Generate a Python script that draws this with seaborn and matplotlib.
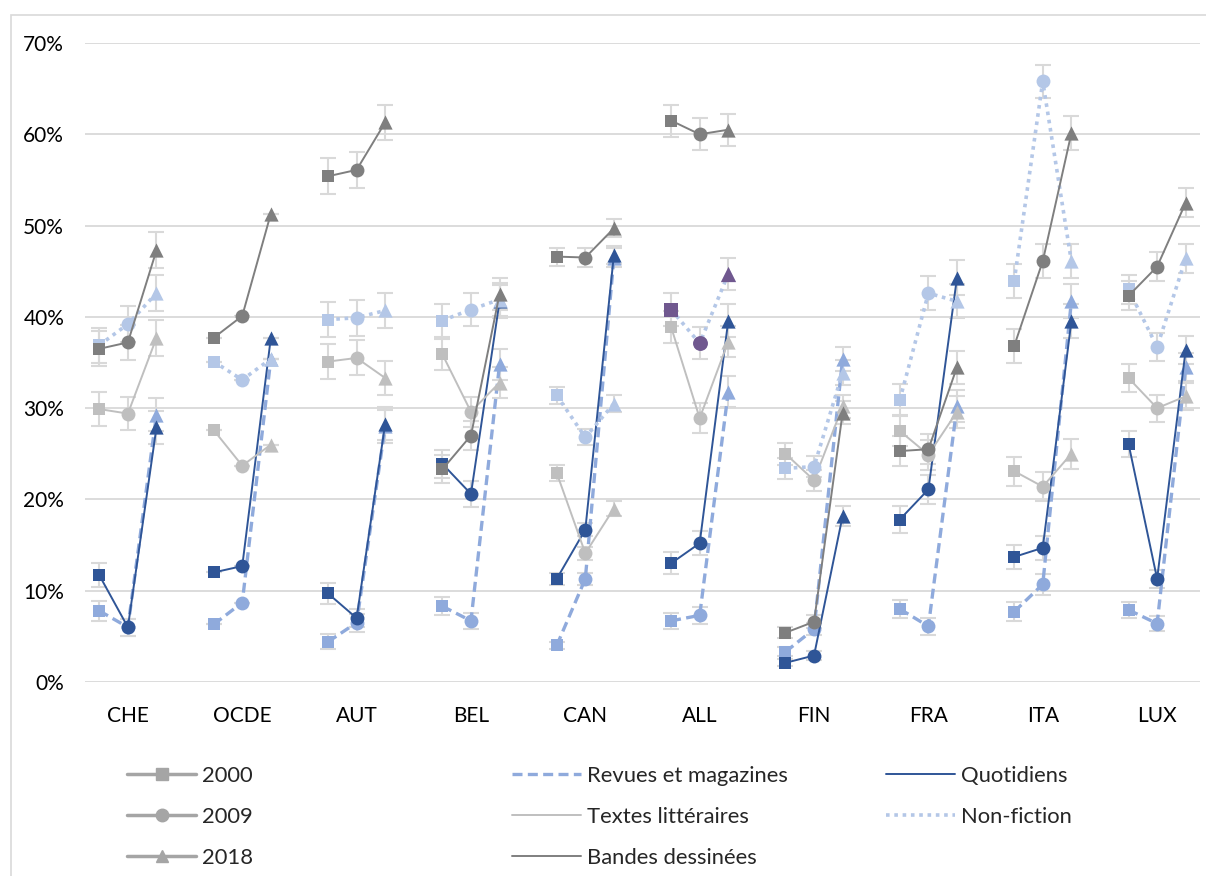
import matplotlib
matplotlib.use("Agg")
import matplotlib.pyplot as plt
from matplotlib.lines import Line2D
from matplotlib.patches import Rectangle
import numpy as np
import pandas as pd
import seaborn as sns

# pays et années
countries = ["CHE", "OCDE", "AUT", "BEL", "CAN", "ALL", "FIN", "FRA", "ITA", "LUX"]
years = ["2000", "2009", "2018"]

# valeurs en % (3 années par pays, dans l'ordre des pays)
revues = [7.8, 6.0, 29.3, 6.3, 8.7, 35.4, 4.4, 6.5, 28.0, 8.3, 6.7, 34.8,
          4.0, 11.3, 46.5, 6.7, 7.3, 31.8, 3.3, 5.8, 35.4, 8.0, 6.1, 30.2,
          7.7, 10.7, 41.7, 7.9, 6.4, 34.5]
quotidiens = [11.7, 6.0, 27.9, 12.0, 12.7, 37.7, 9.7, 7.0, 28.3, 23.9, 20.6, 41.7,
              11.3, 16.7, 46.8, 13.0, 15.2, 39.6, 2.1, 2.9, 18.2, 17.8, 21.1, 44.3,
              13.7, 14.7, 39.5, 26.1, 11.3, 36.4]
textes = [29.9, 29.4, 37.7, 27.6, 23.7, 26.0, 35.1, 35.5, 33.3, 35.9, 29.6, 32.8,
          22.9, 14.1, 19.0, 38.9, 28.9, 37.3, 25.0, 22.1, 30.2, 27.5, 24.9, 29.6,
          23.1, 21.4, 25.0, 33.3, 30.0, 31.3]
nonfiction = [36.9, 39.2, 42.6, 35.1, 33.1, 35.4, 39.7, 39.9, 40.7, 39.6, 40.8, 41.9,
              31.4, 26.8, 30.5, 40.8, 37.1, 44.7, 23.4, 23.6, 33.9, 30.9, 42.6, 41.7,
              43.9, 65.8, 46.1, 43.0, 36.7, 46.4]
bandes = [36.5, 37.2, 47.3, 37.7, 40.1, 51.3, 55.4, 56.1, 61.3, 23.3, 27.0, 42.5,
          46.6, 46.5, 49.7, 61.5, 60.0, 60.5, 5.4, 6.6, 29.5, 25.3, 25.5, 34.5,
          36.8, 46.1, 60.1, 42.3, 45.5, 52.5]

# demi-largeur des barres d'erreur (points de %, pour p = 50 %)
err_base = [2.0, 0.0, 2.0, 1.8, 1.0, 1.8, 1.4, 1.9, 1.9, 1.6]

# (nom, valeurs, couleur, style, épaisseur) dans l'ordre de tracé
series = [
    ("Revues et magazines", revues, "#8FAADC", (0, (3, 1.6)), 2.4),
    ("Quotidiens", quotidiens, "#2F5597", "-", 1.4),
    ("Textes littéraires", textes, "#BFBFBF", "-", 1.4),
    ("Non-fiction", nonfiction, "#B4C7E7", (0, (1, 1.3)), 2.6),
    ("Bandes dessinées", bandes, "#7F7F7F", "-", 1.4),
]
highlight = ("ALL", "Non-fiction", "#70588F")

rows = []
for name, vals, *_ in series:
    for i, c in enumerate(countries):
        for j, y in enumerate(years):
            rows.append({"serie": name, "pays": c, "annee": y,
                         "x": 4 * i + j, "valeur": vals[3 * i + j],
                         "err": err_base[i]})
df = pd.DataFrame(rows)
p = df["valeur"] / 100
df["err"] = df["err"] * np.sqrt(p * (1 - p)) / 0.5

sns.set_theme(style="white")
plt.rcParams['font.family'] = ['Lato', 'DejaVu Sans']

fig = plt.figure(figsize=(12.06, 8.76), dpi=100)
ax = fig.add_axes([85 / 1206, 1 - 682 / 876, 1115 / 1206, 639 / 876])

markers = {"2000": "s", "2009": "o", "2018": "^"}
sizes = {"2000": 85, "2009": 100, "2018": 105}

# barres d'erreur
ax.errorbar(df["x"], df["valeur"], yerr=df["err"], fmt="none",
            ecolor="#D9D9D9", elinewidth=1.5, capsize=6, capthick=1.5, zorder=1)

for k, (name, vals, color, ls, lw) in enumerate(series):
    sub = df[df["serie"] == name]
    sns.lineplot(data=sub, x="x", y="valeur", units="pays", estimator=None,
                 color=color, linestyle=ls, linewidth=lw, ax=ax, zorder=2 + k,
                 legend=False)
    for y in years:
        pts = sub[sub["annee"] == y]
        ax.scatter(pts["x"], pts["valeur"], marker=markers[y], s=sizes[y],
                   color=color, linewidths=0, zorder=2 + k)
    if name == highlight[1]:
        hl = sub[sub["pays"] == highlight[0]]
        for y in years:
            pts = hl[hl["annee"] == y]
            ax.scatter(pts["x"], pts["valeur"], marker=markers[y],
                       s=sizes[y] * 1.15, color=highlight[2], linewidths=0,
                       zorder=2 + k)

ax.set_xlim(-0.5, 38.5)
ax.set_ylim(0, 70)
ax.set_yticks(range(0, 71, 10))
ax.set_yticklabels([f"{v}%" for v in range(0, 71, 10)])
ax.set_xticks([4 * i + 1 for i in range(len(countries))])
ax.set_xticklabels(countries)
ax.set_xlabel("")
ax.set_ylabel("")
ax.grid(axis="y", color="#D9D9D9", linewidth=1.3)
ax.grid(axis="x", visible=False)
ax.set_axisbelow(True)
for s in ax.spines.values():
    s.set_visible(False)
ax.tick_params(axis="y", length=0, pad=15, labelsize=15, labelcolor="#000000")
ax.tick_params(axis="x", length=0, pad=17, labelsize=15, labelcolor="#000000")

# cadre du graphique
fig.patches.append(Rectangle((11 / 1206, -0.1), 1.2, 1.1 - 15 / 876,
                             transform=fig.transFigure, fill=False,
                             edgecolor="#D9D9D9", linewidth=1.2))

# légendes
leg_kw = dict(frameon=False, loc="upper left", fontsize=15.8, borderpad=0,
              borderaxespad=0, handlelength=3.15, handletextpad=0.25,
              labelspacing=0.96)
year_handles = [Line2D([], [], color="#A5A5A5", linewidth=2.5,
                       marker=markers[y], markersize=9) for y in years]
fig.legend(year_handles, years, bbox_to_anchor=(127 / 1206, 1 - 766 / 876), **leg_kw)
h2 = [Line2D([], [], color=c, linestyle=ls, linewidth=lw)
      for n, v, c, ls, lw in series if n in ("Revues et magazines", "Textes littéraires", "Bandes dessinées")]
fig.legend(h2, ["Revues et magazines", "Textes littéraires", "Bandes dessinées"],
           bbox_to_anchor=(512 / 1206, 1 - 766 / 876), **leg_kw)
h3 = [Line2D([], [], color=c, linestyle=ls, linewidth=lw)
      for n, v, c, ls, lw in series if n in ("Quotidiens", "Non-fiction")]
fig.legend(h3, ["Quotidiens", "Non-fiction"],
           bbox_to_anchor=(886 / 1206, 1 - 766 / 876), **leg_kw)

fig.savefig("out.png", dpi=100)
